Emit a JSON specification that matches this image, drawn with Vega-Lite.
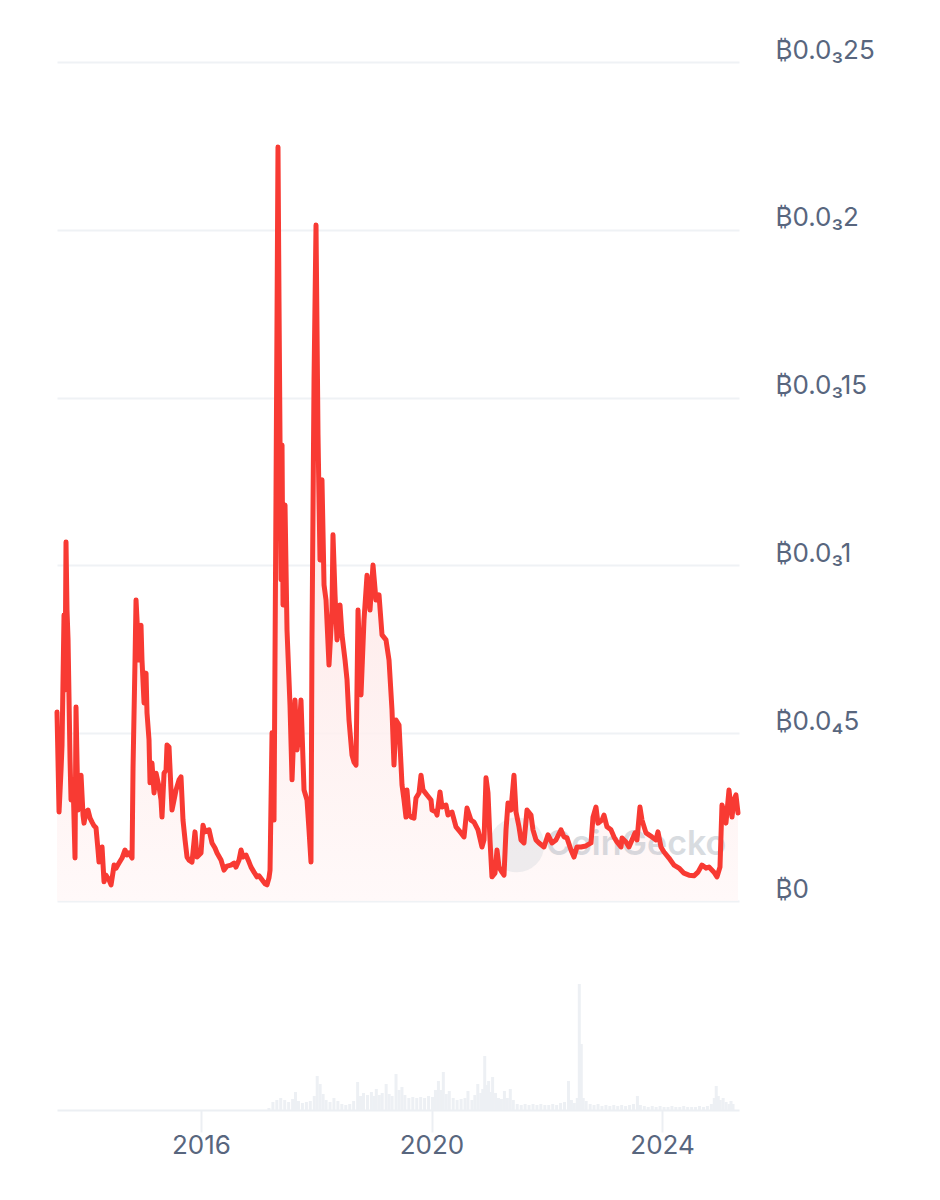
{
  "$schema": "https://vega.github.io/schema/vega-lite/v6.json",
  "background": "white",
  "padding": {"left": 54, "top": 37, "right": 0, "bottom": 0},
  "spacing": 48,
  "config": {
    "view": {"stroke": null},
    "font": "Inter",
    "axis": {"labelFont": "Inter", "labelColor": "#58667e", "labelFontSize": 26}
  },
  "datasets": {
    "price": [
      {"yr": 2013.589, "p": 56.3e-6}, {"yr": 2013.624, "p": 26.5e-6}, {"yr": 2013.658, "p": 39.0e-6}, {"yr": 2013.675, "p": 46.5e-6},
      {"yr": 2013.709, "p": 85.2e-6}, {"yr": 2013.726, "p": 62.9e-6}, {"yr": 2013.743, "p": 107.0e-6}, {"yr": 2013.760, "p": 86.7e-6},
      {"yr": 2013.778, "p": 77.8e-6}, {"yr": 2013.812, "p": 42.0e-6}, {"yr": 2013.829, "p": 30.1e-6}, {"yr": 2013.863, "p": 36.1e-6},
      {"yr": 2013.897, "p": 12.8e-6}, {"yr": 2013.914, "p": 57.8e-6}, {"yr": 2013.931, "p": 42.0e-6}, {"yr": 2013.948, "p": 27.1e-6},
      {"yr": 2013.966, "p": 33.1e-6}, {"yr": 2014.000, "p": 37.5e-6}, {"yr": 2014.034, "p": 25.6e-6}, {"yr": 2014.051, "p": 23.2e-6},
      {"yr": 2014.085, "p": 26.5e-6}, {"yr": 2014.119, "p": 27.1e-6}, {"yr": 2014.154, "p": 24.7e-6}, {"yr": 2014.188, "p": 23.5e-6},
      {"yr": 2014.222, "p": 22.4e-6}, {"yr": 2014.256, "p": 21.8e-6}, {"yr": 2014.290, "p": 15.2e-6}, {"yr": 2014.307, "p": 11.6e-6},
      {"yr": 2014.342, "p": 15.2e-6}, {"yr": 2014.359, "p": 16.1e-6}, {"yr": 2014.393, "p": 5.7e-6}, {"yr": 2014.427, "p": 7.7e-6},
      {"yr": 2014.444, "p": 7.2e-6}, {"yr": 2014.478, "p": 6.3e-6}, {"yr": 2014.513, "p": 4.8e-6}, {"yr": 2014.547, "p": 8.6e-6},
      {"yr": 2014.564, "p": 10.7e-6}, {"yr": 2014.598, "p": 9.8e-6}, {"yr": 2014.649, "p": 11.3e-6}, {"yr": 2014.701, "p": 12.8e-6},
      {"yr": 2014.752, "p": 15.2e-6}, {"yr": 2014.786, "p": 13.7e-6}, {"yr": 2014.820, "p": 14.3e-6}, {"yr": 2014.872, "p": 12.8e-6},
      {"yr": 2014.889, "p": 39.9e-6}, {"yr": 2014.923, "p": 71.8e-6}, {"yr": 2014.940, "p": 89.7e-6}, {"yr": 2014.974, "p": 77.8e-6},
      {"yr": 2014.991, "p": 71.8e-6}, {"yr": 2015.025, "p": 82.2e-6}, {"yr": 2015.042, "p": 71.8e-6}, {"yr": 2015.077, "p": 59.0e-6},
      {"yr": 2015.111, "p": 67.9e-6}, {"yr": 2015.128, "p": 56.0e-6}, {"yr": 2015.162, "p": 48.0e-6}, {"yr": 2015.179, "p": 35.2e-6},
      {"yr": 2015.213, "p": 41.1e-6}, {"yr": 2015.248, "p": 32.2e-6}, {"yr": 2015.282, "p": 38.1e-6}, {"yr": 2015.333, "p": 34.0e-6},
      {"yr": 2015.367, "p": 30.1e-6}, {"yr": 2015.384, "p": 25.0e-6}, {"yr": 2015.419, "p": 38.1e-6}, {"yr": 2015.453, "p": 39.0e-6},
      {"yr": 2015.470, "p": 46.5e-6}, {"yr": 2015.504, "p": 45.9e-6}, {"yr": 2015.538, "p": 33.1e-6}, {"yr": 2015.555, "p": 27.1e-6},
      {"yr": 2015.590, "p": 30.1e-6}, {"yr": 2015.624, "p": 33.1e-6}, {"yr": 2015.675, "p": 36.1e-6}, {"yr": 2015.709, "p": 37.0e-6},
      {"yr": 2015.743, "p": 24.1e-6}, {"yr": 2015.778, "p": 18.2e-6}, {"yr": 2015.812, "p": 13.1e-6}, {"yr": 2015.846, "p": 12.2e-6},
      {"yr": 2015.897, "p": 11.6e-6}, {"yr": 2015.948, "p": 20.6e-6}, {"yr": 2015.983, "p": 13.1e-6}, {"yr": 2016.017, "p": 13.7e-6},
      {"yr": 2016.051, "p": 14.3e-6}, {"yr": 2016.085, "p": 22.6e-6}, {"yr": 2016.119, "p": 20.6e-6}, {"yr": 2016.188, "p": 21.2e-6},
      {"yr": 2016.239, "p": 17.3e-6}, {"yr": 2016.290, "p": 15.8e-6}, {"yr": 2016.325, "p": 14.3e-6}, {"yr": 2016.393, "p": 12.2e-6},
      {"yr": 2016.444, "p": 9.2e-6}, {"yr": 2016.495, "p": 10.4e-6}, {"yr": 2016.564, "p": 10.7e-6}, {"yr": 2016.615, "p": 11.3e-6},
      {"yr": 2016.649, "p": 10.1e-6}, {"yr": 2016.701, "p": 12.2e-6}, {"yr": 2016.735, "p": 15.2e-6}, {"yr": 2016.769, "p": 13.1e-6},
      {"yr": 2016.820, "p": 13.7e-6}, {"yr": 2016.872, "p": 11.6e-6}, {"yr": 2016.906, "p": 10.1e-6}, {"yr": 2016.957, "p": 8.6e-6},
      {"yr": 2017.008, "p": 7.2e-6}, {"yr": 2017.042, "p": 7.5e-6}, {"yr": 2017.094, "p": 6.3e-6}, {"yr": 2017.145, "p": 5.1e-6},
      {"yr": 2017.179, "p": 4.8e-6}, {"yr": 2017.213, "p": 6.9e-6}, {"yr": 2017.231, "p": 9.2e-6}, {"yr": 2017.265, "p": 50.1e-6},
      {"yr": 2017.299, "p": 24.1e-6}, {"yr": 2017.333, "p": 121.0e-6}, {"yr": 2017.367, "p": 224.7e-6}, {"yr": 2017.384, "p": 179.1e-6},
      {"yr": 2017.419, "p": 95.7e-6}, {"yr": 2017.436, "p": 135.9e-6}, {"yr": 2017.453, "p": 88.2e-6}, {"yr": 2017.487, "p": 118.0e-6},
      {"yr": 2017.521, "p": 80.8e-6}, {"yr": 2017.555, "p": 65.9e-6}, {"yr": 2017.572, "p": 58.4e-6}, {"yr": 2017.607, "p": 36.1e-6},
      {"yr": 2017.658, "p": 59.9e-6}, {"yr": 2017.692, "p": 45.0e-6}, {"yr": 2017.726, "p": 49.5e-6}, {"yr": 2017.760, "p": 59.9e-6},
      {"yr": 2017.812, "p": 33.1e-6}, {"yr": 2017.863, "p": 30.1e-6}, {"yr": 2017.897, "p": 21.2e-6}, {"yr": 2017.931, "p": 11.6e-6},
      {"yr": 2017.948, "p": 77.8e-6}, {"yr": 2017.983, "p": 155.3e-6}, {"yr": 2018.017, "p": 201.4e-6}, {"yr": 2018.034, "p": 170.2e-6},
      {"yr": 2018.051, "p": 138.9e-6}, {"yr": 2018.085, "p": 101.6e-6}, {"yr": 2018.119, "p": 125.5e-6}, {"yr": 2018.154, "p": 94.2e-6},
      {"yr": 2018.188, "p": 89.7e-6}, {"yr": 2018.239, "p": 70.3e-6}, {"yr": 2018.290, "p": 86.7e-6}, {"yr": 2018.307, "p": 109.1e-6},
      {"yr": 2018.342, "p": 91.2e-6}, {"yr": 2018.376, "p": 77.8e-6}, {"yr": 2018.427, "p": 88.2e-6}, {"yr": 2018.461, "p": 79.3e-6},
      {"yr": 2018.513, "p": 71.8e-6}, {"yr": 2018.547, "p": 65.9e-6}, {"yr": 2018.581, "p": 53.9e-6}, {"yr": 2018.632, "p": 43.5e-6},
      {"yr": 2018.666, "p": 41.4e-6}, {"yr": 2018.701, "p": 40.5e-6}, {"yr": 2018.735, "p": 86.7e-6}, {"yr": 2018.786, "p": 61.4e-6},
      {"yr": 2018.837, "p": 83.7e-6}, {"yr": 2018.889, "p": 97.1e-6}, {"yr": 2018.940, "p": 86.7e-6}, {"yr": 2018.991, "p": 100.1e-6},
      {"yr": 2019.042, "p": 89.7e-6}, {"yr": 2019.094, "p": 91.2e-6}, {"yr": 2019.145, "p": 79.3e-6}, {"yr": 2019.213, "p": 77.8e-6},
      {"yr": 2019.265, "p": 71.8e-6}, {"yr": 2019.316, "p": 56.9e-6}, {"yr": 2019.350, "p": 40.5e-6}, {"yr": 2019.384, "p": 53.9e-6},
      {"yr": 2019.436, "p": 52.4e-6}, {"yr": 2019.487, "p": 34.6e-6}, {"yr": 2019.521, "p": 30.1e-6}, {"yr": 2019.555, "p": 25.0e-6},
      {"yr": 2019.572, "p": 33.1e-6}, {"yr": 2019.607, "p": 25.6e-6}, {"yr": 2019.641, "p": 25.0e-6}, {"yr": 2019.692, "p": 24.7e-6},
      {"yr": 2019.726, "p": 30.7e-6}, {"yr": 2019.778, "p": 32.2e-6}, {"yr": 2019.812, "p": 37.5e-6}, {"yr": 2019.846, "p": 33.1e-6},
      {"yr": 2019.914, "p": 31.6e-6}, {"yr": 2019.983, "p": 30.1e-6}, {"yr": 2020.000, "p": 27.1e-6}, {"yr": 2020.068, "p": 26.5e-6},
      {"yr": 2020.085, "p": 25.6e-6}, {"yr": 2020.137, "p": 32.5e-6}, {"yr": 2020.171, "p": 28.0e-6}, {"yr": 2020.239, "p": 28.6e-6},
      {"yr": 2020.273, "p": 25.6e-6}, {"yr": 2020.342, "p": 26.5e-6}, {"yr": 2020.410, "p": 22.1e-6}, {"yr": 2020.495, "p": 20.3e-6},
      {"yr": 2020.547, "p": 19.1e-6}, {"yr": 2020.598, "p": 27.7e-6}, {"yr": 2020.666, "p": 24.1e-6}, {"yr": 2020.718, "p": 23.5e-6},
      {"yr": 2020.786, "p": 21.2e-6}, {"yr": 2020.854, "p": 16.1e-6}, {"yr": 2020.889, "p": 18.2e-6}, {"yr": 2020.923, "p": 36.7e-6},
      {"yr": 2020.957, "p": 32.2e-6}, {"yr": 2020.991, "p": 18.2e-6}, {"yr": 2021.025, "p": 7.2e-6}, {"yr": 2021.077, "p": 8.3e-6},
      {"yr": 2021.111, "p": 15.2e-6}, {"yr": 2021.145, "p": 10.1e-6}, {"yr": 2021.196, "p": 8.6e-6}, {"yr": 2021.231, "p": 7.7e-6},
      {"yr": 2021.265, "p": 21.2e-6}, {"yr": 2021.299, "p": 29.2e-6}, {"yr": 2021.350, "p": 27.1e-6}, {"yr": 2021.401, "p": 37.5e-6},
      {"yr": 2021.436, "p": 26.5e-6}, {"yr": 2021.487, "p": 22.1e-6}, {"yr": 2021.521, "p": 18.2e-6}, {"yr": 2021.572, "p": 17.3e-6},
      {"yr": 2021.624, "p": 27.1e-6}, {"yr": 2021.692, "p": 25.6e-6}, {"yr": 2021.726, "p": 21.2e-6}, {"yr": 2021.778, "p": 18.2e-6},
      {"yr": 2021.829, "p": 17.3e-6}, {"yr": 2021.914, "p": 16.1e-6}, {"yr": 2021.983, "p": 19.7e-6}, {"yr": 2022.051, "p": 17.3e-6},
      {"yr": 2022.119, "p": 18.2e-6}, {"yr": 2022.205, "p": 21.2e-6}, {"yr": 2022.256, "p": 19.1e-6}, {"yr": 2022.307, "p": 18.8e-6},
      {"yr": 2022.376, "p": 15.2e-6}, {"yr": 2022.427, "p": 13.1e-6}, {"yr": 2022.478, "p": 16.1e-6}, {"yr": 2022.547, "p": 16.1e-6},
      {"yr": 2022.632, "p": 16.4e-6}, {"yr": 2022.718, "p": 17.3e-6}, {"yr": 2022.752, "p": 25.0e-6}, {"yr": 2022.803, "p": 28.0e-6},
      {"yr": 2022.837, "p": 23.2e-6}, {"yr": 2022.906, "p": 24.1e-6}, {"yr": 2022.940, "p": 25.6e-6}, {"yr": 2022.991, "p": 22.1e-6},
      {"yr": 2023.060, "p": 21.2e-6}, {"yr": 2023.111, "p": 19.1e-6}, {"yr": 2023.162, "p": 17.6e-6}, {"yr": 2023.231, "p": 16.1e-6},
      {"yr": 2023.248, "p": 18.8e-6}, {"yr": 2023.316, "p": 17.6e-6}, {"yr": 2023.367, "p": 16.1e-6}, {"yr": 2023.419, "p": 18.2e-6},
      {"yr": 2023.470, "p": 20.3e-6}, {"yr": 2023.504, "p": 18.2e-6}, {"yr": 2023.555, "p": 28.0e-6}, {"yr": 2023.590, "p": 24.1e-6},
      {"yr": 2023.658, "p": 20.3e-6}, {"yr": 2023.709, "p": 19.7e-6}, {"yr": 2023.760, "p": 19.1e-6}, {"yr": 2023.829, "p": 18.2e-6},
      {"yr": 2023.863, "p": 20.6e-6}, {"yr": 2023.914, "p": 16.1e-6}, {"yr": 2023.966, "p": 14.6e-6}, {"yr": 2024.051, "p": 12.8e-6},
      {"yr": 2024.137, "p": 10.7e-6}, {"yr": 2024.222, "p": 9.8e-6}, {"yr": 2024.307, "p": 8.3e-6}, {"yr": 2024.393, "p": 7.7e-6},
      {"yr": 2024.478, "p": 7.5e-6}, {"yr": 2024.547, "p": 8.6e-6}, {"yr": 2024.615, "p": 10.7e-6}, {"yr": 2024.684, "p": 9.8e-6},
      {"yr": 2024.735, "p": 10.1e-6}, {"yr": 2024.820, "p": 8.6e-6}, {"yr": 2024.872, "p": 7.2e-6}, {"yr": 2024.923, "p": 10.1e-6},
      {"yr": 2024.957, "p": 28.6e-6}, {"yr": 2024.991, "p": 26.5e-6}, {"yr": 2025.025, "p": 23.2e-6}, {"yr": 2025.077, "p": 33.1e-6},
      {"yr": 2025.128, "p": 25.0e-6}, {"yr": 2025.162, "p": 30.1e-6}, {"yr": 2025.196, "p": 31.6e-6}, {"yr": 2025.231, "p": 26.2e-6}
    ],
    "volume": [
      {"yr": 2017.179, "v": 2}, {"yr": 2017.248, "v": 8}, {"yr": 2017.316, "v": 10}, {"yr": 2017.384, "v": 12}, {"yr": 2017.453, "v": 10},
      {"yr": 2017.521, "v": 8}, {"yr": 2017.590, "v": 11}, {"yr": 2017.641, "v": 18}, {"yr": 2017.692, "v": 9}, {"yr": 2017.760, "v": 7},
      {"yr": 2017.829, "v": 8}, {"yr": 2017.897, "v": 9}, {"yr": 2017.966, "v": 14}, {"yr": 2018.017, "v": 34}, {"yr": 2018.068, "v": 26},
      {"yr": 2018.119, "v": 16}, {"yr": 2018.171, "v": 10}, {"yr": 2018.239, "v": 8}, {"yr": 2018.307, "v": 12}, {"yr": 2018.376, "v": 9},
      {"yr": 2018.444, "v": 6}, {"yr": 2018.513, "v": 5}, {"yr": 2018.581, "v": 6}, {"yr": 2018.649, "v": 9}, {"yr": 2018.718, "v": 28},
      {"yr": 2018.769, "v": 14}, {"yr": 2018.820, "v": 17}, {"yr": 2018.889, "v": 15}, {"yr": 2018.957, "v": 18}, {"yr": 2019.008, "v": 14},
      {"yr": 2019.042, "v": 21}, {"yr": 2019.094, "v": 15}, {"yr": 2019.145, "v": 17}, {"yr": 2019.213, "v": 26}, {"yr": 2019.265, "v": 16},
      {"yr": 2019.316, "v": 14}, {"yr": 2019.384, "v": 36}, {"yr": 2019.436, "v": 20}, {"yr": 2019.487, "v": 23}, {"yr": 2019.538, "v": 15},
      {"yr": 2019.607, "v": 12}, {"yr": 2019.675, "v": 13}, {"yr": 2019.744, "v": 12}, {"yr": 2019.812, "v": 13}, {"yr": 2019.880, "v": 12},
      {"yr": 2019.949, "v": 14}, {"yr": 2020.017, "v": 13}, {"yr": 2020.068, "v": 20}, {"yr": 2020.120, "v": 29}, {"yr": 2020.171, "v": 20},
      {"yr": 2020.205, "v": 38}, {"yr": 2020.256, "v": 16}, {"yr": 2020.308, "v": 19}, {"yr": 2020.376, "v": 12}, {"yr": 2020.444, "v": 10},
      {"yr": 2020.513, "v": 11}, {"yr": 2020.581, "v": 12}, {"yr": 2020.632, "v": 19}, {"yr": 2020.701, "v": 10}, {"yr": 2020.752, "v": 15},
      {"yr": 2020.803, "v": 26}, {"yr": 2020.854, "v": 17}, {"yr": 2020.889, "v": 21}, {"yr": 2020.923, "v": 54}, {"yr": 2020.957, "v": 25},
      {"yr": 2020.991, "v": 29}, {"yr": 2021.025, "v": 18}, {"yr": 2021.060, "v": 33}, {"yr": 2021.111, "v": 17}, {"yr": 2021.162, "v": 12},
      {"yr": 2021.213, "v": 11}, {"yr": 2021.265, "v": 19}, {"yr": 2021.316, "v": 12}, {"yr": 2021.367, "v": 21}, {"yr": 2021.419, "v": 10},
      {"yr": 2021.487, "v": 6}, {"yr": 2021.556, "v": 5}, {"yr": 2021.624, "v": 6}, {"yr": 2021.692, "v": 5}, {"yr": 2021.761, "v": 6},
      {"yr": 2021.829, "v": 5}, {"yr": 2021.897, "v": 6}, {"yr": 2021.966, "v": 5}, {"yr": 2022.034, "v": 5}, {"yr": 2022.103, "v": 6},
      {"yr": 2022.171, "v": 5}, {"yr": 2022.239, "v": 7}, {"yr": 2022.307, "v": 8}, {"yr": 2022.376, "v": 29}, {"yr": 2022.427, "v": 10},
      {"yr": 2022.478, "v": 7}, {"yr": 2022.529, "v": 12}, {"yr": 2022.564, "v": 126}, {"yr": 2022.598, "v": 66}, {"yr": 2022.632, "v": 12},
      {"yr": 2022.683, "v": 9}, {"yr": 2022.752, "v": 6}, {"yr": 2022.820, "v": 5}, {"yr": 2022.889, "v": 6}, {"yr": 2022.957, "v": 4},
      {"yr": 2023.026, "v": 5}, {"yr": 2023.094, "v": 4}, {"yr": 2023.162, "v": 5}, {"yr": 2023.231, "v": 4}, {"yr": 2023.299, "v": 5},
      {"yr": 2023.367, "v": 4}, {"yr": 2023.436, "v": 5}, {"yr": 2023.504, "v": 6}, {"yr": 2023.572, "v": 14}, {"yr": 2023.624, "v": 5},
      {"yr": 2023.692, "v": 4}, {"yr": 2023.760, "v": 3}, {"yr": 2023.829, "v": 4}, {"yr": 2023.897, "v": 3}, {"yr": 2023.966, "v": 4},
      {"yr": 2024.034, "v": 3}, {"yr": 2024.103, "v": 3}, {"yr": 2024.171, "v": 4}, {"yr": 2024.239, "v": 3}, {"yr": 2024.307, "v": 3},
      {"yr": 2024.376, "v": 4}, {"yr": 2024.444, "v": 3}, {"yr": 2024.513, "v": 3}, {"yr": 2024.581, "v": 3}, {"yr": 2024.650, "v": 4},
      {"yr": 2024.718, "v": 3}, {"yr": 2024.787, "v": 4}, {"yr": 2024.855, "v": 6}, {"yr": 2024.906, "v": 12}, {"yr": 2024.940, "v": 24},
      {"yr": 2024.975, "v": 14}, {"yr": 2025.009, "v": 10}, {"yr": 2025.060, "v": 12}, {"yr": 2025.111, "v": 8}, {"yr": 2025.162, "v": 6},
      {"yr": 2025.196, "v": 9}, {"yr": 2025.231, "v": 6}
    ],
    "watermark": [
      {"label": "CoinGecko", "yr": 2023.49, "p": 16.7e-6, "logoYr": 2021.45}
    ]
  },
  "vconcat": [
    {
      "width": 682,
      "height": 839,
      "layer": [
        {
          "data": {"name": "price"},
          "mark": {
            "type": "area",
            "color": {
              "gradient": "linear", "x1": 0, "y1": 0, "x2": 0, "y2": 1,
              "stops": [{"offset": 0, "color": "#fcd3d1"}, {"offset": 1, "color": "#fff8f8"}]
            },
            "opacity": 0.85
          },
          "encoding": {
            "x": {"field": "yr", "type": "quantitative", "scale": {"domain": [2013.589, 2025.248], "nice": false, "zero": false}, "axis": null},
            "y": {
              "field": "p", "type": "quantitative",
              "scale": {"domain": [0, 0.00025], "nice": false},
              "axis": {
                "orient": "right",
                "values": [0, 0.00005, 0.0001, 0.00015, 0.0002, 0.00025],
                "labelExpr": "['₿0', '₿0.0₄5', '₿0.0₃1', '₿0.0₃15', '₿0.0₃2', '₿0.0₃25'][round(datum.value * 20000)]",
                "grid": true, "gridColor": "#eff2f5", "gridWidth": 2,
                "domain": false, "ticks": false,
                "labelPadding": 36, "labelBaseline": "bottom", "labelOffset": 1,
                "labelFontSize": 26, "labelColor": "#58667e", "title": null
              }
            }
          }
        },
        {
          "data": {"name": "watermark"},
          "mark": {"type": "point", "filled": true, "shape": "circle", "size": 3000, "color": "#cfd4da", "opacity": 0.35},
          "encoding": {
            "x": {"field": "logoYr", "type": "quantitative"},
            "y": {"field": "p", "type": "quantitative"}
          }
        },
        {
          "data": {"name": "watermark"},
          "mark": {"type": "text", "font": "Inter", "fontSize": 34, "fontWeight": 600, "color": "#aab2bc", "opacity": 0.45},
          "encoding": {
            "x": {"field": "yr", "type": "quantitative"},
            "y": {"field": "p", "type": "quantitative"},
            "text": {"field": "label"}
          }
        },
        {
          "data": {"name": "price"},
          "mark": {"type": "line", "color": "#f83a33", "strokeWidth": 5, "strokeJoin": "round", "strokeCap": "round"},
          "encoding": {
            "x": {"field": "yr", "type": "quantitative"},
            "y": {"field": "p", "type": "quantitative"}
          }
        }
      ]
    },
    {
      "width": 682,
      "height": 160,
      "data": {"name": "volume"},
      "mark": {"type": "bar", "color": "#edf0f4", "size": 3},
      "encoding": {
        "x": {
          "field": "yr", "type": "quantitative",
          "scale": {"domain": [2013.589, 2025.248], "nice": false, "zero": false},
          "axis": {
            "values": [2016, 2020, 2024], "format": "d", "title": null, "grid": false,
            "domain": true, "domainColor": "#eceff3", "domainWidth": 2,
            "ticks": true, "tickColor": "#eceff3", "tickWidth": 2, "tickSize": 22,
            "labelPadding": 0, "labelFontSize": 26, "labelColor": "#58667e"
          }
        },
        "y": {"field": "v", "type": "quantitative", "scale": {"domain": [0, 160], "nice": false}, "axis": null}
      }
    }
  ]
}
